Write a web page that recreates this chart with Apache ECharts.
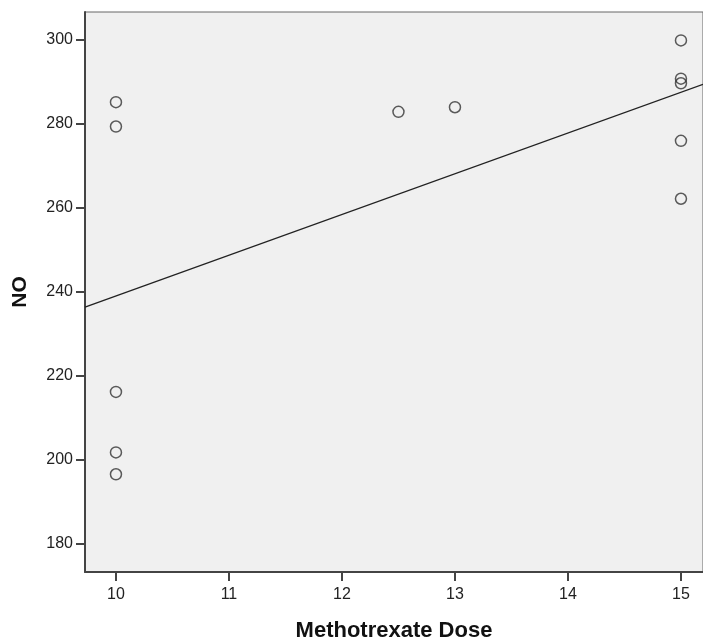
<!DOCTYPE html>
<html>
<head>
<meta charset="utf-8">
<script src="https://cdn.jsdelivr.net/npm/echarts@6/dist/echarts.min.js"></script>
<style>html,body{margin:0;padding:0;background:#fff;}#c{width:703px;height:639px;}</style>
</head>
<body>
<div id="c"></div>
<script>
const doses = [10, 10, 10, 10, 10, 12.5, 13, 15, 15, 15, 15, 15];
const noValues = [285.2, 279.4, 216.2, 201.8, 196.6, 282.9, 284.0, 299.9, 290.8, 289.7, 276.0, 262.2];
const xTicks = [10, 11, 12, 13, 14, 15];
const yTicks = [180, 200, 220, 240, 260, 280, 300];
const xRange = [9.726, 15.195];
const yRange = [173.33, 306.67];

// least squares fit from the data
const n = doses.length;
const mx = doses.reduce((a, b) => a + b, 0) / n;
const my = noValues.reduce((a, b) => a + b, 0) / n;
let sxy = 0, sxx = 0;
for (let i = 0; i < n; i++) { sxy += (doses[i] - mx) * (noValues[i] - my); sxx += (doses[i] - mx) ** 2; }
const slope = sxy / sxx, icpt = my - slope * mx;
const fitLine = xRange.map(x => [x, icpt + slope * x]);

const chart = echarts.init(document.getElementById('c'));
const font = 'Liberation Sans, Arial, sans-serif';
chart.setOption({
  animation: false,
  grid: { left: 85, top: 12, right: 0, bottom: 67, containLabel: false, outerBoundsMode: 'none',
          show: true, backgroundColor: '#f0f0f0', borderColor: '#666', borderWidth: 1 },
  xAxis: {
    type: 'value', min: xRange[0], max: xRange[1],
    name: 'Methotrexate Dose', nameLocation: 'middle', nameGap: 48, nameMoveOverlap: false,
    nameTextStyle: { fontFamily: font, fontSize: 22, fontWeight: 'bold', color: '#111' },
    axisLine: { show: true, lineStyle: { color: '#444', width: 2 } },
    axisTick: { show: true, inside: false, customValues: xTicks, length: 9, lineStyle: { color: '#444', width: 2 } },
    axisLabel: { customValues: xTicks, fontFamily: font, fontSize: 16, color: '#222', margin: 15 },
    splitLine: { show: false }
  },
  yAxis: {
    type: 'value', min: yRange[0], max: yRange[1],
    name: 'NO', nameLocation: 'middle', nameGap: 54, nameRotate: 90, nameMoveOverlap: false,
    nameTextStyle: { fontFamily: font, fontSize: 21, fontWeight: 'bold', color: '#111' },
    axisLine: { show: true, lineStyle: { color: '#444', width: 2 } },
    axisTick: { show: true, inside: false, customValues: yTicks, length: 9, lineStyle: { color: '#444', width: 2 } },
    axisLabel: { customValues: yTicks, fontFamily: font, fontSize: 16, color: '#222', margin: 12 },
    splitLine: { show: false }
  },
  series: [
    {
      type: 'line', data: fitLine, symbol: 'none', silent: true,
      lineStyle: { color: '#222', width: 1.3 }, z: 2
    },
    {
      type: 'scatter', data: doses.map((d, i) => [d, noValues[i]]),
      symbol: 'circle', symbolSize: 11,
      itemStyle: { color: 'rgba(0,0,0,0)', borderColor: '#333', borderWidth: 1.5 }, z: 3
    }
  ]
});
</script>
</body>
</html>
